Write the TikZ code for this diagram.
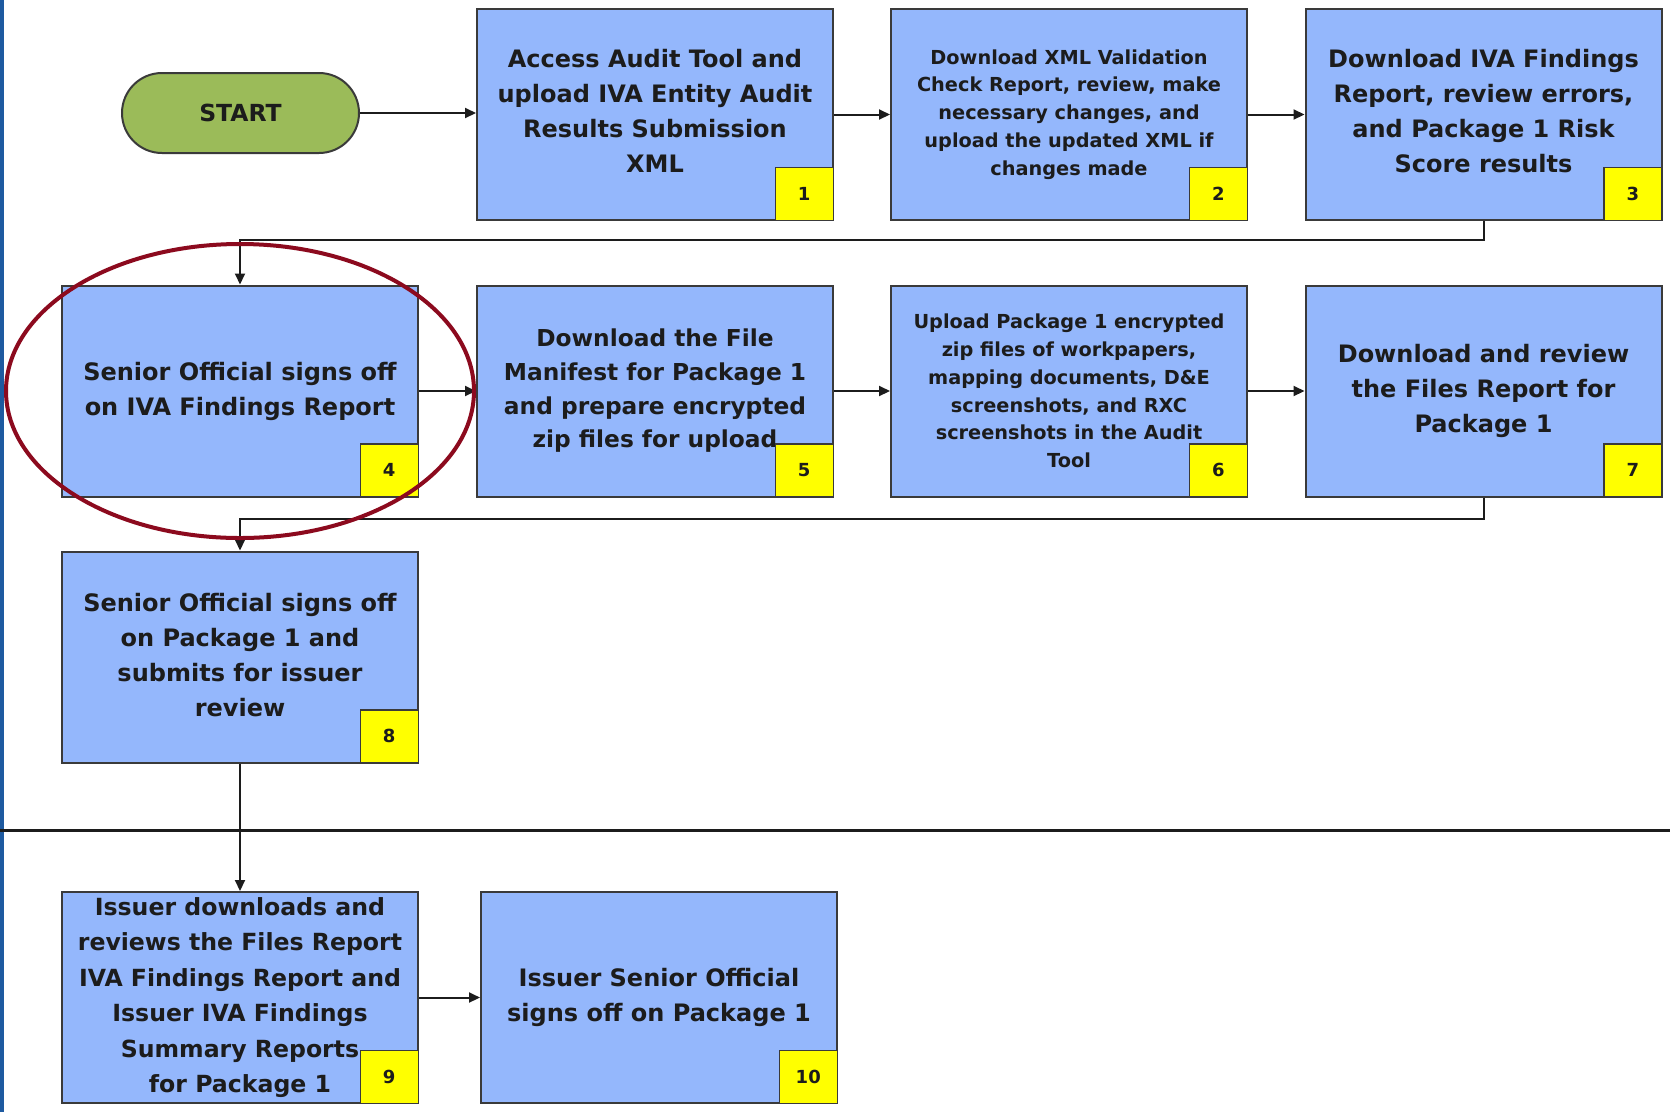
\documentclass[tikz,border=0pt]{standalone}
\usepackage{fontspec}
\setmainfont{DejaVu Sans}
\usetikzlibrary{arrows.meta}

\definecolor{boxblue}{RGB}{148,183,252}
\definecolor{boxline}{RGB}{58,58,58}
\definecolor{tagyellow}{RGB}{255,255,0}
\definecolor{startgreen}{RGB}{155,187,89}
\definecolor{inkdark}{RGB}{28,28,28}
\definecolor{ringred}{RGB}{140,10,30}
\definecolor{barblue}{RGB}{30,90,160}

\tikzset{
  stepbox/.style={draw=boxline, line width=2pt, fill=boxblue,
    minimum width=356pt, minimum height=211pt, inner sep=0pt},
  tagbox/.style={draw=boxline, line width=1.5pt, fill=tagyellow,
    minimum width=58pt, minimum height=53pt, inner sep=0pt, anchor=south east,
    text=inkdark, font=\bfseries\fontsize{18}{20}\selectfont},
  lbl/.style={align=center, inner sep=0pt, text=inkdark,
    font=\bfseries\fontsize{24}{35}\selectfont},
  lblsmall/.style={lbl, font=\bfseries\fontsize{19.3}{27.8}\selectfont},
  flow/.style={draw=inkdark, line width=2pt,
    -{Triangle[length=11pt,width=10pt]}},
}

\begin{document}
\begin{tikzpicture}[x=1pt,y=-1pt]
\useasboundingbox (0,0) rectangle (1670,1112);
\fill[white] (0,0) rectangle (1670,1112);

% left margin bar and lane divider
\fill[barblue] (0,0) rectangle (4,1112);
\draw[inkdark, line width=3pt] (0,830) -- (1670,830);

% start terminal
\node[draw=boxline, line width=2pt, fill=startgreen, rounded corners=40pt,
  minimum width=237pt, minimum height=80pt, inner sep=0pt, text=inkdark,
  font=\bfseries\fontsize{23.5}{26}\selectfont] (start) at (240.5,113) {START};

% process steps
\node[stepbox] (b1) at (655,114.5) {};
\node[stepbox] (b2) at (1069,114.5) {};
\node[stepbox] (b3) at (1483.5,114.5) {};
\node[stepbox] (b4) at (240,391) {};
\node[stepbox] (b5) at (655,391) {};
\node[stepbox] (b6) at (1069,391) {};
\node[stepbox] (b7) at (1483.5,391) {};
\node[stepbox] (b8) at (240,657) {};
\node[stepbox] (b9) at (240,997.5) {};
\node[stepbox] (b10) at (659,997.5) {};

% step texts
\node[lbl] (l1) at ([yshift=4pt]b1.center) {Access Audit Tool and\\upload IVA Entity Audit\\Results Submission\\XML};
\node[lblsmall] (l2) at (b2) {Download XML Validation\\Check Report, review, make\\necessary changes, and\\upload the updated XML if\\changes made};
\node[lbl] (l3) at ([yshift=3pt]b3.center) {Download IVA Findings\\Report, review errors,\\and Package 1 Risk\\Score results};
\node[lbl] (l4) at (b4) {Senior Official signs off\\on IVA Findings Report};
\node[lbl, font=\bfseries\fontsize{23.3}{33.7}\selectfont] (l5) at (b5) {Download the File\\Manifest for Package 1\\and prepare encrypted\\zip files for upload};
\node[lblsmall] (l6) at (b6) {Upload Package 1 encrypted\\zip files of workpapers,\\mapping documents, D\&E\\screenshots, and RXC\\screenshots in the Audit\\Tool};
\node[lbl] (l7) at (b7) {Download and review\\the Files Report for\\Package 1};
\node[lbl] (l8) at ([yshift=2pt]b8.center) {Senior Official signs off\\on Package 1 and\\submits for issuer\\review};
\node[lbl, font=\bfseries\fontsize{23.6}{35.5}\selectfont] (l9) at (b9) {Issuer downloads and\\reviews the Files Report\\IVA Findings Report and\\Issuer IVA Findings\\Summary Reports\\for Package 1};
\node[lbl] (l10) at (b10) {Issuer Senior Official\\signs off on Package 1};

% step numbers
\foreach \n in {1,...,10} {
  \node[tagbox] (t\n) at (b\n.south east) {\n};
}

% connectors
\draw[flow] (start.east) -- (start.east -| b1.west);
\draw[flow] (b1.east) -- (b2.west);
\draw[flow] (b2.east) -- (b3.west);
\draw[flow] (b3.south) -- ++(0,19) -| (b4.north);
\draw[flow] (b4.east) -- (b5.west);
\draw[flow] (b5.east) -- (b6.west);
\draw[flow] (b6.east) -- (b7.west);
\draw[flow] (b7.south) -- ++(0,21) -| (b8.north);
\draw[flow] (b8.south) -- (b9.north);
\draw[flow] (b9.east) -- (b10.west);

% highlight ring round step 4
\draw[ringred, line width=4pt] (240,391) ellipse [x radius=234, y radius=147];
\end{tikzpicture}
\end{document}
